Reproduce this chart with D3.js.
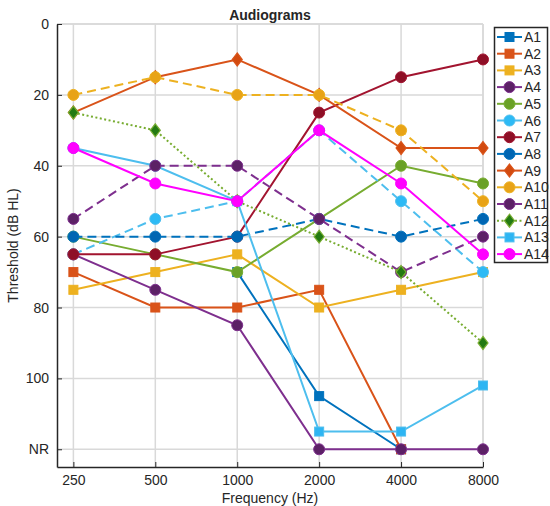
<!DOCTYPE html>
<html lang="en">
<head>
<meta charset="UTF-8">
<title>Audiograms</title>
<script src="https://d3js.org/d3.v7.min.js"></script>
<style>
  body { margin: 0; background: #fff; }
  text { font-family: "Liberation Sans", Arial, sans-serif; fill: #262626; }
</style>
</head>
<body>
<svg width="550" height="506"></svg>
<script>
// frequencies (categorical) and y ticks
var freqs = ["250", "500", "1000", "2000", "4000", "8000"];
var yTicks = [0, 20, 40, 60, 80, 100, 120];
var yTickLabels = ["0", "20", "40", "60", "80", "100", "NR"];

// thresholds in dB HL, 120 = no response, null = not measured
var a1  = [null, null, 70, 105, 120, null];
var a2  = [70, 80, 80, 75, 120, null];
var a3  = [75, 70, 65, 80, 75, 70];
var a4  = [65, 75, 85, 120, 120, 120];
var a5  = [60, 65, 70, 55, 40, 45];
var a6  = [35, 40, 50, null, null, null];
var a6b = [65, 55, 50, 30, 50, 70];
var a7  = [65, 65, 60, 25, 15, 10];
var a8  = [60, 60, 60, 55, 60, 55];
var a9  = [25, 15, 10, 20, 35, 35];
var a10 = [20, 15, 20, 20, 30, 50];
var a11 = [55, 40, 40, 55, 70, 60];
var a12 = [25, 30, 50, 60, 70, 90];
var a13 = [null, null, 50, 115, 115, 102];
var a14 = [35, 45, 50, 30, 45, 65];

var series = [
  {name: "A1",  values: a1,  color: "#0072BD", fill: "#0072BD", marker: "square",  dash: null},
  {name: "A2",  values: a2,  color: "#D95319", fill: "#D95319", marker: "square",  dash: null},
  {name: "A3",  values: a3,  color: "#EDB120", fill: "#EDB120", marker: "square",  dash: null},
  {name: "A4",  values: a4,  color: "#7E2F8E", fill: "#5C2166", marker: "circle",  dash: null},
  {name: "A5",  values: a5,  color: "#77AC30", fill: "#6AA126", marker: "circle",  dash: null},
  {name: "A6",  values: a6,  color: "#4DBEEE", fill: "#2DBAF5", marker: "circle",  dash: null},
  {name: null,  values: a6b, color: "#4DBEEE", fill: "#2DBAF5", marker: "circle",  dash: "9,5"},
  {name: "A7",  values: a7,  color: "#A2142F", fill: "#8E0F26", marker: "circle",  dash: null},
  {name: "A8",  values: a8,  color: "#0072BD", fill: "#0066B3", marker: "circle",  dash: "9,5"},
  {name: "A9",  values: a9,  color: "#D95319", fill: "#D24A0F", marker: "diamond", dash: null},
  {name: "A10", values: a10, color: "#EDB120", fill: "#E8A317", marker: "circle",  dash: "9,5"},
  {name: "A11", values: a11, color: "#7E2F8E", fill: "#5C2166", marker: "circle",  dash: "9,5"},
  {name: "A12", values: a12, color: "#77AC30", fill: "#237A12", marker: "diamond", dash: "2,2.5"},
  {name: "A13", values: a13, color: "#4DBEEE", fill: "#2DB5F3", marker: "square",  dash: null},
  {name: "A14", values: a14, color: "#FF00FF", fill: "#FF00FF", marker: "circle",  dash: null}
];

var svg = d3.select("svg");
var pLeft = 57, pRight = 483, pTop = 24, pBottom = 467;

var x = d3.scaleLinear().domain([-0.2, 5]).range([pLeft, pRight]);
var y = d3.scaleLinear().domain([0, 125]).range([pTop, pBottom]);

// grid
var grid = svg.append("g");
grid.selectAll(".gx").data(freqs).enter().append("line")
  .attr("x1", function(d, i) { return x(i); }).attr("x2", function(d, i) { return x(i); })
  .attr("y1", pTop).attr("y2", pBottom)
  .attr("stroke", "#d9d9d9").attr("stroke-width", 1.5);
grid.selectAll(".gy").data(yTicks).enter().append("line")
  .attr("x1", pLeft).attr("x2", pRight)
  .attr("y1", function(d) { return y(d); }).attr("y2", function(d) { return y(d); })
  .attr("stroke", "#d9d9d9").attr("stroke-width", 1.5);
grid.append("line").attr("x1", pLeft).attr("x2", pRight).attr("y1", pTop).attr("y2", pTop)
  .attr("stroke", "#d9d9d9").attr("stroke-width", 1.5);
grid.append("line").attr("x1", pRight).attr("x2", pRight).attr("y1", pTop).attr("y2", pBottom)
  .attr("stroke", "#d9d9d9").attr("stroke-width", 1.5);

// axes
var xAxis = d3.axisBottom(x).tickValues(d3.range(freqs.length))
  .tickFormat(function(i) { return freqs[i]; }).tickSizeInner(-5).tickSizeOuter(0).tickPadding(8);
var gx = svg.append("g").attr("transform", "translate(0," + pBottom + ")").call(xAxis);
var yAxis = d3.axisLeft(y).tickValues(yTicks)
  .tickFormat(function(d, i) { return yTickLabels[i]; }).tickSizeInner(-5).tickSizeOuter(0).tickPadding(8);
var gy = svg.append("g").attr("transform", "translate(" + pLeft + ",0)").call(yAxis);
[gx, gy].forEach(function(g) {
  g.select(".domain").attr("stroke", "#262626").attr("stroke-width", 1.5);
  g.selectAll(".tick line").attr("stroke", "#262626").attr("stroke-width", 1);
  g.selectAll(".tick text").attr("font-size", 14).attr("fill", "#262626")
    .attr("font-family", "Liberation Sans, Arial, sans-serif");
});

svg.append("text").attr("x", (pLeft + pRight) / 2).attr("y", 503)
  .attr("text-anchor", "middle").attr("font-size", 14).text("Frequency (Hz)");
svg.append("text").attr("transform", "translate(18," + ((pTop + pBottom) / 2) + ") rotate(-90)")
  .attr("text-anchor", "middle").attr("font-size", 14).text("Threshold (dB HL)");
svg.append("text").attr("x", 270).attr("y", 20)
  .attr("text-anchor", "middle").attr("font-size", 14).attr("font-weight", "bold").text("Audiograms");

// markers
function drawMarker(g, type, cx, cy, s) {
  if (type === "circle") {
    g.append("circle").attr("cx", cx).attr("cy", cy).attr("r", 5.5)
      .attr("fill", s.fill).attr("stroke", s.color).attr("stroke-width", 1);
  } else if (type === "square") {
    g.append("rect").attr("x", cx - 4.5).attr("y", cy - 4.5).attr("width", 9).attr("height", 9)
      .attr("fill", s.fill).attr("stroke", s.color).attr("stroke-width", 1);
  } else {
    g.append("path").attr("d", "M" + cx + "," + (cy - 6.5) + "L" + (cx + 5) + "," + cy +
        "L" + cx + "," + (cy + 6.5) + "L" + (cx - 5) + "," + cy + "Z")
      .attr("fill", s.fill).attr("stroke", s.color).attr("stroke-width", 1.2);
  }
}

var line = d3.line()
  .defined(function(d) { return d != null; })
  .x(function(d, i) { return x(i); })
  .y(function(d) { return y(d); });

var plot = svg.append("g");
series.forEach(function(s) {
  var g = plot.append("g");
  g.append("path").attr("d", line(s.values))
    .attr("fill", "none").attr("stroke", s.color).attr("stroke-width", 2)
    .attr("stroke-dasharray", s.dash);
  s.values.forEach(function(v, i) {
    if (v != null) drawMarker(g, s.marker, x(i), y(v), s);
  });
});

// legend
var legendItems = series.filter(function(s) { return s.name; });
var lg = svg.append("g");
lg.append("rect").attr("x", 494.5).attr("y", 27.5).attr("width", 53).attr("height", 235)
  .attr("fill", "#fff").attr("stroke", "#262626").attr("stroke-width", 1.5);
legendItems.forEach(function(s, i) {
  var ly = 37 + i * 16.7;
  var g = lg.append("g");
  g.append("line").attr("x1", 497).attr("x2", 522).attr("y1", ly).attr("y2", ly)
    .attr("stroke", s.color).attr("stroke-width", 2)
    .attr("stroke-dasharray", s.name === "A12" ? s.dash : null);
  drawMarker(g, s.marker, 509.5, ly, s);
  g.append("text").attr("x", 524).attr("y", ly + 5).attr("font-size", 14).text(s.name);
});
</script>
</body>
</html>
